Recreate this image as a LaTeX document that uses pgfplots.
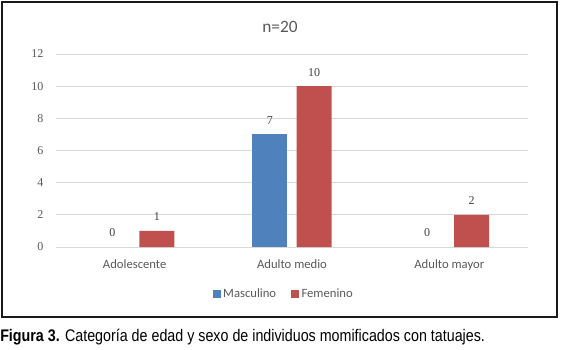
\documentclass[border=0pt]{standalone}
\usepackage{fontspec}
\setmainfont{Carlito}
\newfontfamily\serifnum{Liberation Serif}
\newfontfamily\capfont[FakeStretch=0.85]{Liberation Sans}
\usepackage{pgfplots}
\pgfplotsset{compat=1.18}
\definecolor{mblue}{HTML}{4F81BD}
\definecolor{fred}{HTML}{C0504D}
\definecolor{gridg}{HTML}{D9D9D9}
\definecolor{txtg}{HTML}{595959}
\definecolor{lblg}{HTML}{404040}
\begin{document}
\begin{tikzpicture}
\useasboundingbox (0pt,0pt) rectangle (420.75pt,262.5pt);
\draw[line width=1.1pt, black!90] (1.5pt,261pt) rectangle (417.75pt,24.75pt);
\node[text=txtg, font=\fontsize{13}{15}\selectfont] at (210pt,242.25pt) {n=20};
\begin{axis}[
  at={(42pt,77.25pt)}, anchor=south west,
  scale only axis, width=354pt, height=144.75pt,
  xmin=-0.5, xmax=2.5, ymin=0, ymax=12,
  ytick={0,2,...,12},
  xtick={0,1,2},
  xticklabels={Adolescente,Adulto medio,Adulto mayor},
  ymajorgrids, grid style={gridg, line width=0.6pt},
  axis line style={draw=none},
  major tick length=0pt,
  /pgf/number format/assume math mode=true,
  yticklabel style={font=\serifnum\fontsize{9}{10}\selectfont, text=txtg, xshift=-6pt},
  xticklabel style={font=\fontsize{9.5}{11}\selectfont, text=txtg, yshift=-6pt},
  ybar, bar width=26.25pt,
  nodes near coords,
  every node near coord/.append style={font=\serifnum\fontsize{9}{10}\selectfont, text=lblg, yshift=4pt},
  legend columns=2,
  legend style={at={(0.483,-0.2435)}, anchor=center, draw=none, fill=none,
    font=\fontsize{9.5}{11}\selectfont, text=txtg,
    /tikz/every even column/.append style={column sep=9pt}},
  legend image code/.code={\fill[#1] (0pt,-3pt) rectangle (6pt,3pt);},
]
\addplot[fill=mblue, draw=none, bar shift=-16.65pt] coordinates {(1,7)};
\addplot[fill=fred, draw=none, bar shift=16.65pt] coordinates {(0,1) (1,10) (2,2)};
\addplot[fill=none, draw=none, bar shift=-16.65pt, forget plot] coordinates {(0,0) (2,0)};
\legend{Masculino,Femenino}
\end{axis}
\node[anchor=base west, inner sep=0pt, font=\capfont\fontsize{12.6}{14}\selectfont] at (0pt,6.5pt) {\textbf{Figura 3.} Categoría de edad y sexo de individuos momificados con tatuajes.};
\end{tikzpicture}
\end{document}
